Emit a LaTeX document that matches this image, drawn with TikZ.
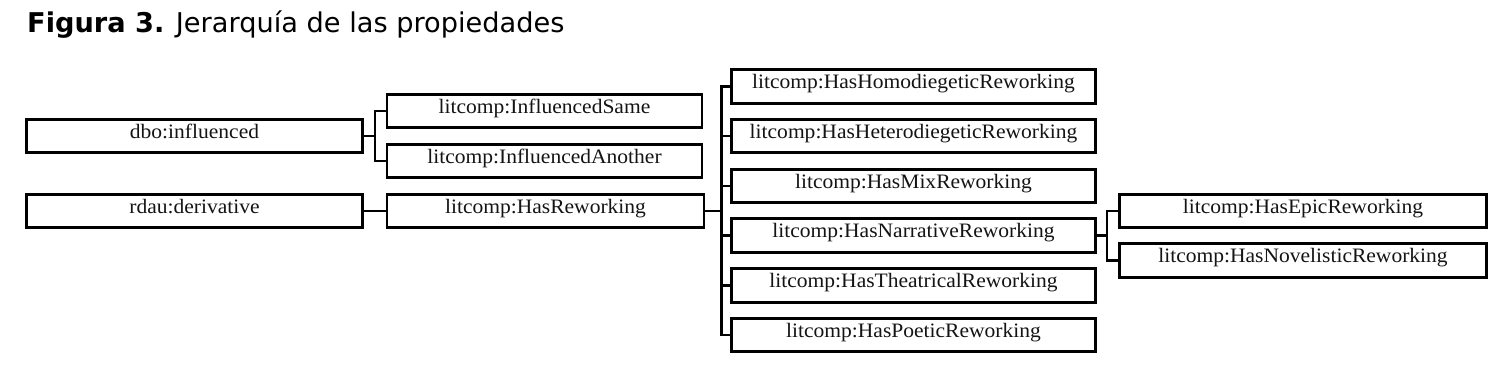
\documentclass[tikz,border=0pt]{standalone}
\usepackage{fontspec}
\usepackage{tikz}
\usepackage{xcolor}
\setmainfont{DejaVu Sans}
\newfontfamily\propfont[FakeStretch=1.05]{Liberation Serif}
\definecolor{boxborder}{RGB}{0,0,0}
\definecolor{boxtext}{RGB}{20,20,20}

\begin{document}
\begin{tikzpicture}[
    x=1pt, y=-1pt,
    prop/.style={draw=boxborder, line width=2.8pt, inner sep=0pt, minimum height=33.3pt, text height=14pt, text depth=9.5pt, text=boxtext, font=\propfont\fontsize{20.5}{22}\selectfont},
    link/.style={draw=boxborder, line width=2.8pt}
]

% Canvas
\useasboundingbox[fill=white] (0,0) rectangle (1511,371);

% Title
\node[anchor=base west, inner sep=0pt, font=\fontsize{27.2}{30}\selectfont] (title) at (27,33) {\textbf{Figura 3.} Jerarquía de las propiedades};

% 1. TOP-LEVEL PROPERTIES
\node[prop, minimum width=336pt] (influenced) at (194.5,136) {dbo:influenced};
\node[prop, minimum width=336pt] (derivative) at (194.5,211) {rdau:derivative};

% 2. SUB-PROPERTIES
\node[prop, minimum width=315pt] (infsame) at (544.5,111) {litcomp:InfluencedSame};
\node[prop, minimum width=315pt] (infanother) at (544.5,161) {litcomp:InfluencedAnother};
\node[prop, minimum width=317pt] (hasrew) at (545.5,211) {litcomp:HasReworking};

% 3. KINDS OF REWORKING
\node[prop, minimum width=364pt] (homodieg) at (913.5,86.5) {litcomp:HasHomodiegeticReworking};
\node[prop, minimum width=364pt] (heterodieg) at (913.5,136) {litcomp:HasHeterodiegeticReworking};
\node[prop, minimum width=364pt] (mixrew) at (913.5,186) {litcomp:HasMixReworking};
\node[prop, minimum width=364pt] (narrative) at (913.5,235.5) {litcomp:HasNarrativeReworking};
\node[prop, minimum width=364pt] (theatrical) at (913.5,285.5) {litcomp:HasTheatricalReworking};
\node[prop, minimum width=364pt] (poetic) at (913.5,335) {litcomp:HasPoeticReworking};

% Narrative sub-kinds
\node[prop, minimum width=367pt] (epic) at (1303,211) {litcomp:HasEpicReworking};
\node[prop, minimum width=367pt] (novelistic) at (1303,260.5) {litcomp:HasNovelisticReworking};

% 4. HIERARCHY LINKS
\draw[link] (influenced.east) -- ++(11,0) |- (infsame.west);
\draw[link] (influenced.east) ++(11,0) |- (infanother.west);
\draw[link] (derivative.east) -- (hasrew.west);

\draw[link] (hasrew.east) -- ++(16,0) coordinate (busrew);
\foreach \kind in {homodieg,heterodieg,mixrew,narrative,theatrical,poetic}
    \draw[link] (busrew) |- (\kind.west);

\draw[link] (narrative.east) -- ++(10,0) coordinate (busnarr);
\draw[link] (busnarr) |- (epic.west);
\draw[link] (busnarr) |- (novelistic.west);

\end{tikzpicture}
\end{document}
